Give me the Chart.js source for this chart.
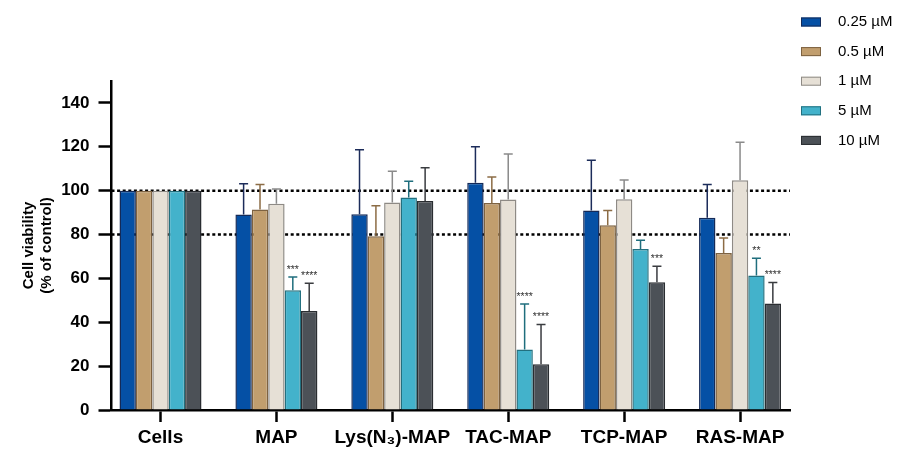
<!DOCTYPE html>
<html>
<head>
<meta charset="utf-8">
<script src="https://cdn.jsdelivr.net/npm/chart.js@4.4.1/dist/chart.umd.min.js"></script>
<style>
  html, body { margin: 0; padding: 0; background: #ffffff; }
  #wrap { position: relative; width: 899px; height: 451px; }
</style>
</head>
<body>
<div id="wrap"><canvas id="c" width="899" height="451"></canvas></div>
<script>
// Cell viability (% of control) per conjugate and concentration
const categories = ['Cells', 'MAP', 'Lys(N₃)-MAP', 'TAC-MAP', 'TCP-MAP', 'RAS-MAP'];
const seriesNames = ['0.25 µM', '0.5 µM', '1 µM', '5 µM', '10 µM'];

const mean025 = [100, 89.1, 89.3, 103.6, 91.0, 87.6];
const mean05  = [100, 91.4, 79.2, 94.4, 84.2, 71.6];
const mean1   = [100, 94.0, 94.6, 96.0, 96.1, 104.7];
const mean5   = [100, 54.6, 96.9, 27.6, 73.4, 61.3];
const mean10  = [100, 45.1, 95.3, 20.9, 58.2, 48.6];

// upper whisker (SD)
const sd025 = [0, 14.0, 29.3, 16.4, 22.9, 15.2];
const sd05  = [0, 11.4, 13.9, 11.8, 6.8, 6.8];
const sd1   = [0, 6.8, 14.3, 20.7, 8.8, 17.4];
const sd5   = [0, 6.0, 7.4, 20.7, 4.0, 7.9];
const sd10  = [0, 12.7, 15.1, 18.1, 7.3, 9.5];

// significance vs. control
const sig025 = ['', '', '', '', '', ''];
const sig05  = ['', '', '', '', '', ''];
const sig1   = ['', '', '', '', '', ''];
const sig5   = ['', '***', '', '****', '', '**'];
const sig10  = ['', '****', '', '****', '***', '****'];

// dotted reference levels
const refLines = [100, 80];

const yTickValues = { min: 0, max: 150, step: 10, labelEvery: 20 };

const fills   = ['#0550a5', '#c19e6e', '#e6e0d6', '#43b2cb', '#4c5157'];
const borders = ['#142a58', '#7d6241', '#8e8a85', '#22707f', '#2a2d31'];
const whiskers = ['#1c2c5a', '#8c6c45', '#8a8a8a', '#1f6e7d', '#3a3c40'];

const FONT = '"Liberation Sans", Arial, Helvetica, sans-serif';

const means = [mean025, mean05, mean1, mean5, mean10];
const sds = [sd025, sd05, sd1, sd5, sd10];
const sigs = [sig025, sig05, sig1, sig5, sig10];

const datasets = means.map((m, d) => ({
  label: seriesNames[d],
  data: m.map((v, i) => ({ x: i, y: v })),
  backgroundColor: fills[d],
  borderColor: borders[d],
  borderWidth: 1.5,
  sd: sds[d],
  sig: sigs[d],
  whisker: whiskers[d]
}));

const refLinePlugin = {
  id: 'refLines',
  beforeDatasetsDraw(chart) {
    const { ctx, chartArea, scales } = chart;
    ctx.save();
    ctx.strokeStyle = '#000';
    ctx.lineWidth = 2.5;
    ctx.setLineDash([3, 2.6]);
    refLines.forEach(v => {
      const y = scales.y.getPixelForValue(v);
      ctx.beginPath();
      ctx.moveTo(chartArea.left, y);
      ctx.lineTo(chartArea.right, y);
      ctx.stroke();
    });
    ctx.restore();
  }
};

const errorBarPlugin = {
  id: 'errorBars',
  afterDatasetsDraw(chart) {
    const { ctx, scales } = chart;
    ctx.save();
    chart.data.datasets.forEach((ds, d) => {
      const meta = chart.getDatasetMeta(d);
      meta.data.forEach((bar, i) => {
        const v = ds.data[i].y;
        const e = ds.sd[i];
        const yTop = scales.y.getPixelForValue(v + e);
        if (e > 0) {
          ctx.strokeStyle = ds.whisker;
          ctx.lineWidth = 1.5;
          ctx.setLineDash([]);
          ctx.beginPath();
          ctx.moveTo(bar.x, bar.y);
          ctx.lineTo(bar.x, yTop);
          ctx.moveTo(bar.x - 4.5, yTop);
          ctx.lineTo(bar.x + 4.5, yTop);
          ctx.stroke();
        }
        const s = ds.sig[i];
        if (s) {
          ctx.fillStyle = '#333333';
          ctx.font = '10.5px ' + FONT;
          ctx.textAlign = 'center';
          ctx.textBaseline = 'alphabetic';
          ctx.fillText(s, bar.x, yTop - 10 + 5.8);
        }
      });
    });
    ctx.restore();
  }
};

const legendPlugin = {
  id: 'sideLegend',
  afterDraw(chart) {
    const { ctx } = chart;
    ctx.save();
    chart.data.datasets.forEach((ds, d) => {
      const cy = 22 + d * 29.6;
      ctx.fillStyle = ds.backgroundColor;
      ctx.fillRect(801, cy - 4.5, 20, 9);
      ctx.strokeStyle = ds.borderColor;
      ctx.lineWidth = 1;
      ctx.strokeRect(801.5, cy - 4, 19, 8);
      ctx.fillStyle = '#000';
      ctx.font = '15px ' + FONT;
      ctx.textAlign = 'left';
      ctx.textBaseline = 'middle';
      ctx.fillText(ds.label, 838, cy);
    });
    ctx.restore();
  }
};

new Chart(document.getElementById('c'), {
  type: 'bar',
  data: { datasets },
  plugins: [refLinePlugin, errorBarPlugin, legendPlugin],
  options: {
    responsive: false,
    animation: false,
    layout: { padding: { top: 81, right: 109, bottom: 0, left: 0 } },
    plugins: { legend: { display: false }, tooltip: { enabled: false } },
    datasets: { bar: { categoryPercentage: 0.7075, barPercentage: 1 } },
    scales: {
      x: {
        type: 'linear',
        min: -0.4228,
        max: 5.431,
        offset: false,
        grid: { display: true, offset: false, drawOnChartArea: false, drawTicks: true, tickLength: 12, tickWidth: 2.5, tickColor: '#000' },
        border: { display: true, color: '#000', width: 2.5 },
        ticks: {
          stepSize: 1,
          includeBounds: false,
          autoSkip: false,
          maxRotation: 0,
          padding: 4,
          color: '#000',
          font: { family: FONT, size: 19, weight: 'bold' },
          callback: v => Number.isInteger(v) ? categories[v] : ''
        },
        afterFit(s) { s.height = 41; }
      },
      y: {
        min: yTickValues.min,
        max: yTickValues.max,
        grid: { display: true, drawOnChartArea: false, drawTicks: true, tickLength: 13, tickWidth: 2.5, tickColor: '#000' },
        border: { display: true, color: '#000', width: 2.5 },
        ticks: {
          stepSize: yTickValues.step,
          padding: 9,
          color: '#000',
          font: { family: FONT, size: 17, weight: 'bold' },
          callback: v => (v % yTickValues.labelEvery === 0 ? v : '')
        },
        title: {
          display: true,
          text: ['Cell viability', '(% of control)'],
          color: '#000',
          font: { family: FONT, size: 15, weight: 'bold', lineHeight: 1.15 },
          padding: { top: 20.5, bottom: 0 }
        },
        afterFit(s) { s.width = 111.5; }
      }
    }
  }
});
</script>
</body>
</html>
